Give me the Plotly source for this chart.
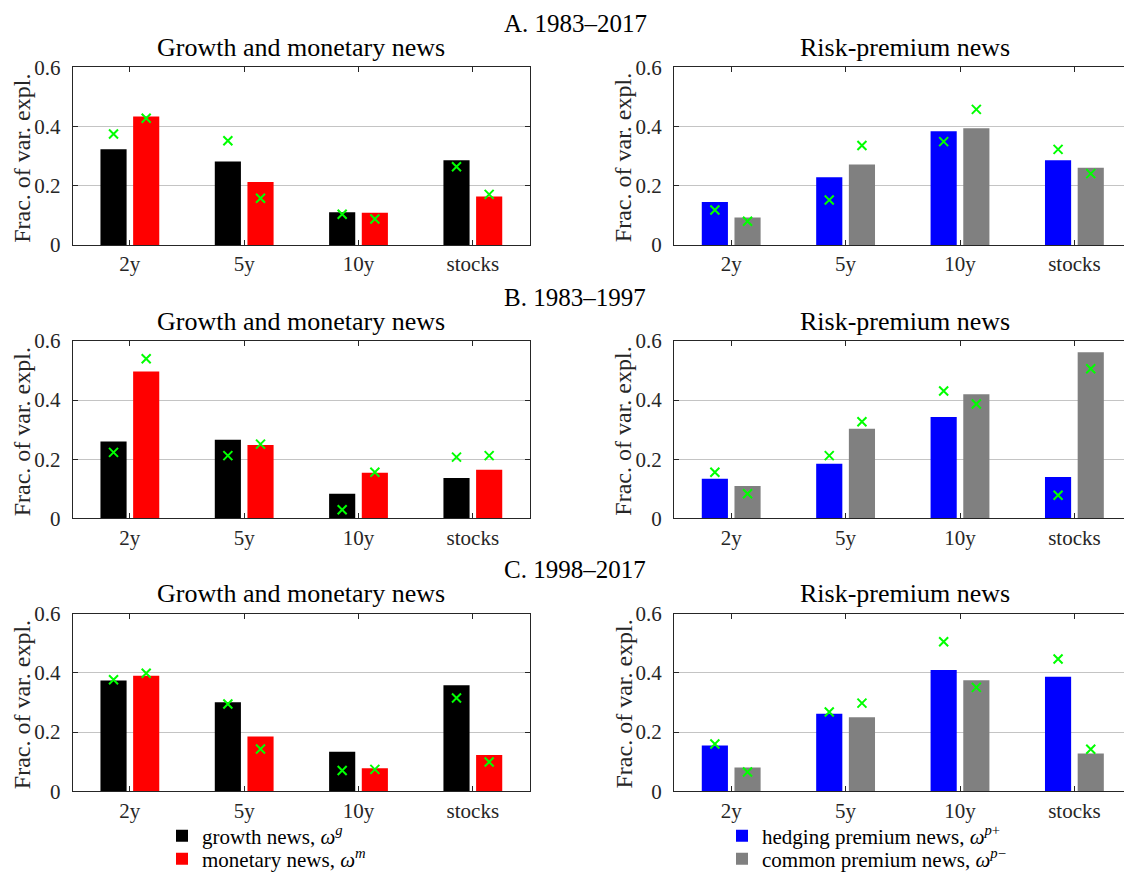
import numpy as np
import plotly.graph_objects as go

# ---- data -----------------------------------------------------------------
categories = ["2y", "5y", "10y", "stocks"]
y_tick_vals = [0, 0.2, 0.4, 0.6]
y_tick_text = ["0", "0.2", "0.4", "0.6"]

section_titles = ["A. 1983–2017", "B. 1983–1997", "C. 1998–2017"]
left_title = "Growth and monetary news"
right_title = "Risk-premium news"
y_label = "Frac. of var. expl."

# bar heights (fraction of variance explained) and green-cross estimates
growth_A = [0.323, 0.282, 0.111, 0.286]
growth_x_A = [0.375, 0.352, 0.104, 0.264]
monetary_A = [0.434, 0.213, 0.109, 0.164]
monetary_x_A = [0.428, 0.158, 0.088, 0.171]
hedging_A = [0.145, 0.229, 0.384, 0.286]
hedging_x_A = [0.118, 0.152, 0.349, 0.323]
common_A = [0.093, 0.272, 0.394, 0.261]
common_x_A = [0.080, 0.336, 0.458, 0.241]

growth_B = [0.260, 0.266, 0.083, 0.136]
growth_x_B = [0.223, 0.212, 0.029, 0.207]
monetary_B = [0.497, 0.248, 0.154, 0.164]
monetary_x_B = [0.540, 0.251, 0.156, 0.212]
hedging_B = [0.134, 0.185, 0.343, 0.140]
hedging_x_B = [0.156, 0.212, 0.431, 0.078]
common_B = [0.109, 0.303, 0.420, 0.562]
common_x_B = [0.083, 0.327, 0.387, 0.506]

growth_C = [0.374, 0.301, 0.134, 0.358]
growth_x_C = [0.377, 0.295, 0.070, 0.315]
monetary_C = [0.390, 0.185, 0.078, 0.123]
monetary_x_C = [0.399, 0.143, 0.074, 0.099]
hedging_C = [0.155, 0.262, 0.410, 0.387]
hedging_x_C = [0.160, 0.268, 0.505, 0.447]
common_C = [0.080, 0.250, 0.375, 0.128]
common_x_C = [0.065, 0.298, 0.351, 0.142]

series_names = {
    "growth": "growth news, <i>ω</i><sup><i>g</i></sup>",
    "monetary": "monetary news, <i>ω</i><sup><i>m</i></sup>",
    "hedging": "hedging premium news, <i>ω</i><sup><i>p</i>+</sup>",
    "common": "common premium news, <i>ω</i><sup><i>p</i>−</sup>",
}
series_colors = {"growth": "#000000", "monetary": "#ff0000",
                 "hedging": "#0000ff", "common": "#808080"}
# each series gets its own one-entry legend so the rows can sit close together
series_legend = {"growth": "legend", "monetary": "legend2",
                 "hedging": "legend3", "common": "legend4"}

# ---- layout geometry --------------------------------------------------------
W, H = 1124, 873
FONT = "Liberation Serif"
CAT_PX = 114.4                      # pixels per category slot
left_px = (72.7, 530.0)
right_px = (674.0, W)
row_px = [(67.3, 245.0), (341.0, 518.3), (613.7, 791.3)]   # (top, bottom)


def fx(p):
    return p / W


def fy(p):
    return 1 - p / H


group_w = 2 / 3.5
bar_w = 0.8 * group_w / 2
shift = group_w / 4
xs = np.arange(1, len(categories) + 1)

fig = go.Figure()

panels = [
    (growth_A, growth_x_A, monetary_A, monetary_x_A, hedging_A, hedging_x_A, common_A, common_x_A),
    (growth_B, growth_x_B, monetary_B, monetary_x_B, hedging_B, hedging_x_B, common_B, common_x_B),
    (growth_C, growth_x_C, monetary_C, monetary_x_C, hedging_C, hedging_x_C, common_C, common_x_C),
]

axis_common = dict(
    showline=True, linecolor="#262626", linewidth=1,
    ticks="inside", ticklen=5, tickcolor="#262626",
    tickfont=dict(family=FONT, size=21, color="#262626"),
    zeroline=False, fixedrange=True, automargin=False,
)

annotations = []
for r, vals in enumerate(panels):
    g, gx, m, mx, hp, hx, cp, cx = vals
    top, bot = row_px[r]
    ydom = [fy(bot), fy(top)]
    for c in range(2):
        idx = 2 * r + c + 1
        xa = "x" if idx == 1 else f"x{idx}"
        ya = "y" if idx == 1 else f"y{idx}"
        xkey = "xaxis" if idx == 1 else f"xaxis{idx}"
        ykey = "yaxis" if idx == 1 else f"yaxis{idx}"
        if c == 0:
            pair = [("growth", g, gx), ("monetary", m, mx)]
            xdom = [fx(left_px[0]), fx(left_px[1])]
            xr = [0.5, 4.5]
            title = left_title
        else:
            pair = [("hedging", hp, hx), ("common", cp, cx)]
            xdom = [fx(right_px[0]), 1.0]
            xr = [0.5, 0.5 + (right_px[1] - right_px[0]) / CAT_PX]
            title = right_title

        for k, (key, bars, crosses) in enumerate(pair):
            sgn = -1 if k == 0 else 1
            fig.add_trace(go.Bar(
                x=xs, y=bars, width=bar_w, offset=sgn * shift - bar_w / 2,
                marker=dict(color=series_colors[key], line=dict(width=0)),
                name=series_names[key], legend=series_legend[key],
                showlegend=(r == 0), legendgroup=key,
                xaxis=xa, yaxis=ya, hoverinfo="skip",
            ))
        for k, (key, bars, crosses) in enumerate(pair):
            sgn = -1 if k == 0 else 1
            fig.add_trace(go.Scatter(
                x=xs + sgn * shift, y=crosses, mode="markers",
                marker=dict(symbol="x-thin", size=9, color="#00ff00",
                            line=dict(width=2, color="#00ff00")),
                showlegend=False, xaxis=xa, yaxis=ya, hoverinfo="skip",
            ))

        fig.layout[xkey] = dict(
            axis_common, domain=xdom, range=xr, anchor=ya,
            tickmode="array", tickvals=list(xs), ticktext=categories,
            mirror="ticks", showgrid=False, ticklabelstandoff=0,
        )
        fig.layout[ykey] = dict(
            axis_common, domain=ydom, range=[0, 0.6], anchor=xa,
            tickmode="array", tickvals=y_tick_vals, ticktext=y_tick_text,
            mirror="ticks" if c == 0 else False,
            showgrid=True, gridcolor="#c4c4c4", gridwidth=1,
            ticklabelstandoff=7,
        )

        x0 = left_px[0] if c == 0 else right_px[0]
        xc = (left_px[0] + left_px[1]) / 2 if c == 0 else (right_px[0] + 1135) / 2
        annotations.append(dict(
            text=title, x=fx(xc), y=fy(top - 20), xref="paper", yref="paper",
            xanchor="center", yanchor="middle", showarrow=False,
            font=dict(family=FONT, size=26, color="#000000"),
        ))
        annotations.append(dict(
            text=y_label, x=fx(x0 - 51), y=fy((top + bot) / 2 + 2),
            xref="paper", yref="paper", textangle=-90,
            xanchor="center", yanchor="middle", showarrow=False,
            font=dict(family=FONT, size=24, color="#262626"),
        ))
    annotations.append(dict(
        text=section_titles[r], x=fx(575), y=fy(top - 44),
        xref="paper", yref="paper", xanchor="center", yanchor="middle",
        showarrow=False, font=dict(family=FONT, size=25, color="#000000"),
    ))

legend_style = dict(
    bgcolor="rgba(0,0,0,0)", borderwidth=0,
    font=dict(family=FONT, size=21, color="#000000"),
    yanchor="middle", xanchor="left", tracegroupgap=0,
    orientation="v",
)

fig.update_layout(
    width=W, height=H,
    margin=dict(l=0, r=0, t=0, b=0, autoexpand=False),
    paper_bgcolor="white", plot_bgcolor="white",
    barmode="overlay",
    annotations=annotations,
    legend=dict(legend_style, x=fx(162), y=fy(836)),
    legend2=dict(legend_style, x=fx(162), y=fy(859)),
    legend3=dict(legend_style, x=fx(722), y=fy(836)),
    legend4=dict(legend_style, x=fx(722), y=fy(859)),
)

fig.write_html("out.html", config={"displayModeBar": False})
